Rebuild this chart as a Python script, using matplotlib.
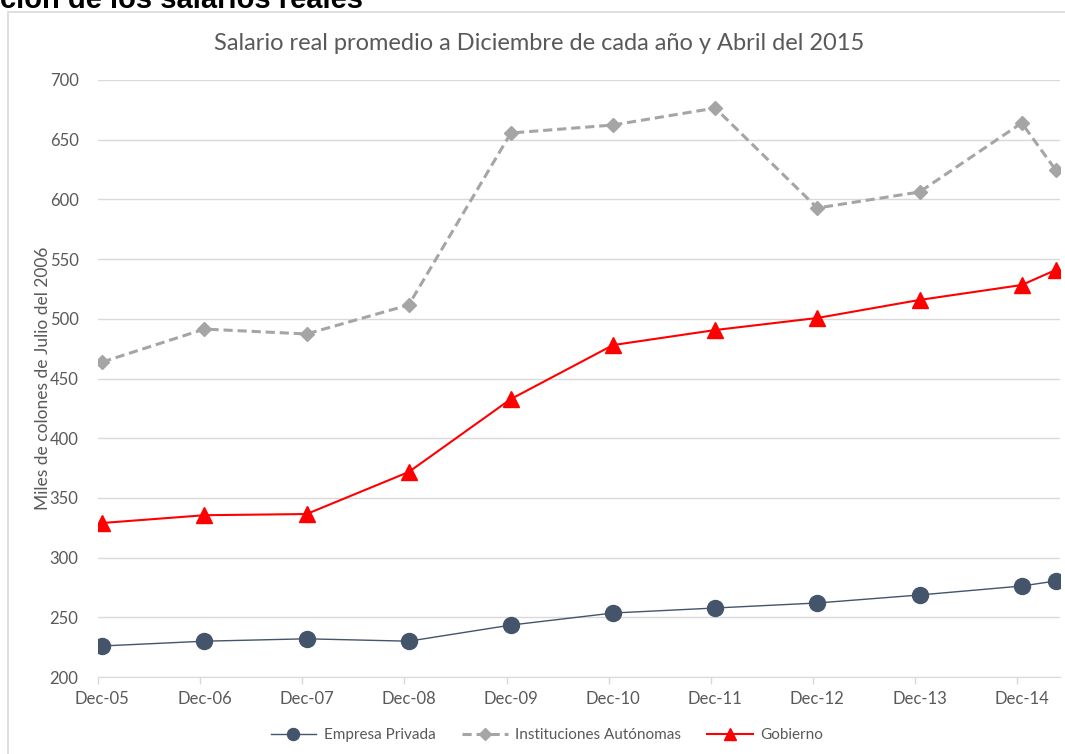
import matplotlib.pyplot as plt
from matplotlib.patches import Rectangle

# months counted from Dec 2005 (last point: April 2015)
meses = [0, 12, 24, 36, 48, 60, 72, 84, 96, 108, 112]
etiquetas = ['Dec-05', 'Dec-06', 'Dec-07', 'Dec-08', 'Dec-09', 'Dec-10',
             'Dec-11', 'Dec-12', 'Dec-13', 'Dec-14']

empresa_privada = [226, 230, 232, 230, 243.5, 253.6, 257.8, 262, 268.7, 276.2, 280.4]
instituciones = [463.8, 491.4, 487.3, 511.6, 655.6, 662.3, 676.5, 592.8, 606.2, 664, 624.6]
gobierno = [329, 335.5, 336.5, 371.7, 432.8, 478, 490.6, 500.7, 515.8, 528.3, 540.9]

gris = '#595959'
plt.rcParams['font.family'] = ['Lato', 'DejaVu Sans']

fig = plt.figure(figsize=(10.65, 7.54), dpi=100)
ax = fig.add_axes([0.092, 0.1021, 0.9033, 0.7918])

# chart border
fig.patches.append(Rectangle((8 / 1065, -0.05), 1.1, 1 - 12 / 754 + 0.05,
                             transform=fig.transFigure, fill=False,
                             edgecolor='#D9D9D9', linewidth=1.2))

fig.text(0.0, 1 - 8 / 754, 'ción de los salarios reales', family='Liberation Sans',
         fontsize=21, fontweight='bold', color='black', ha='left', va='baseline')

# points sit mid-month on Excel date axis
x = [m + 0.5 for m in meses]

ax.plot(x, empresa_privada, color='#44546A', linewidth=1, marker='o',
        markersize=11.5, label='Empresa Privada', zorder=3)
ax.plot(x, instituciones, color='#A5A5A5', linewidth=2.2, linestyle=(0, (3, 1.6)),
        marker='D', markersize=7.5, label='Instituciones Autónomas', zorder=3)
ax.plot(x, gobierno, color='#FF0000', linewidth=1.5, marker='^',
        markersize=11, label='Gobierno', zorder=3)

ax.set_xlim(0, 113)
ax.set_ylim(200, 700)
ax.set_yticks(range(200, 701, 50))
ax.grid(axis='y', color='#D9D9D9', linewidth=1)
ax.set_axisbelow(True)

ax.set_xticks(range(0, 109, 12))
ax.set_xticklabels([])
ax.set_xticks([m + 0.5 for m in meses[:10]], minor=True)
ax.set_xticklabels(etiquetas, minor=True)
ax.tick_params(axis='x', which='major', length=5, color='#D9D9D9', width=1)
ax.tick_params(axis='x', which='minor', length=0, pad=10, labelsize=12, labelcolor=gris)
ax.tick_params(axis='y', length=0, pad=14, labelsize=12, labelcolor=gris)

for s in ['top', 'right', 'left']:
    ax.spines[s].set_visible(False)
ax.spines['bottom'].set_color('#D9D9D9')

ax.set_ylabel('Miles de colones de Julio del 2006', fontsize=12.5, color=gris)
ax.yaxis.set_label_coords(-0.049, 0.5)
fig.text(539 / 1065, 1 - 44 / 754,
         'Salario real promedio a Diciembre de cada año y Abril del 2015',
         fontsize=17, color=gris, ha='center', va='center')

fig.legend(loc='center', bbox_to_anchor=(547 / 1065, 1 - 735 / 754), ncol=3, frameon=False,
           fontsize=11, labelcolor=gris, handlelength=3, columnspacing=1.7,
           markerscale=0.75, handletextpad=0.5)

fig.savefig('out.png', dpi=100)
